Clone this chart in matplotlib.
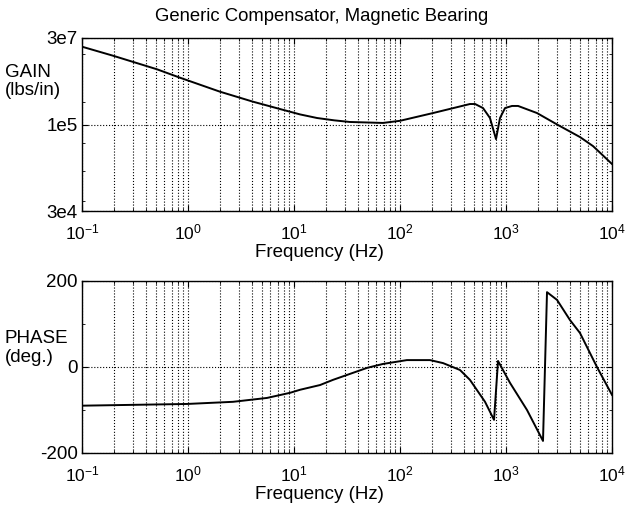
import matplotlib
matplotlib.use("Agg")
import matplotlib.pyplot as plt
from matplotlib.ticker import FixedLocator, LogLocator

plt.rcParams['font.family'] = ['Liberation Sans', 'DejaVu Sans']
plt.rcParams['mathtext.fontset'] = 'custom'
plt.rcParams['mathtext.rm'] = 'Liberation Sans'
plt.rcParams['axes.unicode_minus'] = False

# gain curve (Hz, lbs/in)
gain_freq = [0.1, 0.196, 0.51, 0.84, 2.0, 4.1, 7.38, 11.4, 16.5, 24, 33.7, 69,
             100, 205, 457, 511, 607, 706, 805, 878, 979, 1140, 1300, 1960,
             3095, 4990, 6630, 10000]
gain_val = [2.12e7, 1.48e7, 8.6e6, 6.15e6, 3.52e6, 2.36e6, 1.76e6, 1.42e6,
            1.23e6, 1.12e6, 1.05e6, 1.01e6, 1.10e6, 1.50e6, 2.15e6, 2.15e6,
            1.83e6, 1.23e6, 5.3e5, 1.23e6, 1.83e6, 1.99e6, 1.99e6, 1.50e6,
            9.3e5, 5.75e5, 4.0e5, 1.96e5]

# phase curve (Hz, deg)
phase_freq = [0.1, 0.98, 2.66, 5.56, 9.2, 11.4, 17.6, 23.3, 49, 69, 116, 192,
              255, 368, 457, 634, 771, 841, 1091, 1578, 2234, 2437, 3029,
              4018, 4989, 7211, 10000]
phase_val = [-90, -86, -81, -72, -60, -53, -42, -30, -2, 7, 16, 16,
             9, -7, -30, -81, -123, 14, -37, -100, -172, 174, 156,
             109, 79, 0, -65]

gain_ticks = [3e4, 9.487e5, 3e7]
gain_labels = ['3e4', '1e5', '3e7']
gain_minor = [4.5e4, 1.5e5, 4.5e5, 2.3e6, 1.6e7]
phase_ticks = [-200, 0, 200]
phase_minor = [-100, 100]

fig = plt.figure(figsize=(6.25, 5.08), dpi=100)
ax1 = fig.add_axes([0.1312, 0.5846, 0.848, 0.3406])
ax2 = fig.add_axes([0.1312, 0.1083, 0.848, 0.3386])

ax1.plot(gain_freq, gain_val, 'k-', lw=1.4)
ax1.set_yscale('log')
ax1.set_ylim(3e4, 3e7)
ax1.yaxis.set_major_locator(FixedLocator(gain_ticks))
ax1.yaxis.set_minor_locator(FixedLocator(gain_minor))
ax1.set_yticklabels(gain_labels)
ax1.yaxis.set_minor_formatter(plt.NullFormatter())

ax2.plot(phase_freq, phase_val, 'k-', lw=1.4)
ax2.set_ylim(-200, 200)
ax2.set_yticks(phase_ticks)
ax2.yaxis.set_minor_locator(FixedLocator(phase_minor))

for ax in (ax1, ax2):
    ax.set_xscale('log')
    ax.set_xlim(0.1, 1e4)
    ax.xaxis.set_major_locator(LogLocator(base=10, numticks=10))
    ax.xaxis.set_minor_locator(LogLocator(base=10, subs=range(2, 10), numticks=20))
    ax.grid(True, which='both', axis='x', color='k', ls=':', lw=0.8)
    ax.grid(True, which='major', axis='y', color='k', ls=':', lw=0.8)
    ax.tick_params(which='both', direction='in', top=True, right=True)
    ax.tick_params(axis='y', labelsize=13.5, pad=3)
    ax.tick_params(axis='x', labelsize=12.5, pad=8)
    ax.tick_params(which='major', length=4)
    ax.tick_params(which='minor', length=2)
    ax.set_xlabel('Frequency (Hz)', fontsize=13.5)
    ax.xaxis.set_label_coords(0.4487, -0.19)
    for s in ax.spines.values():
        s.set_linewidth(1.0)

fig.text(0.5144, 0.985, 'Generic Compensator, Magnetic Bearing', fontsize=13.3,
         ha='center', va='top')
fig.text(0.008, 0.84, 'GAIN\n(lbs/in)', fontsize=13.5, ha='left', va='center',
         linespacing=1.1)
fig.text(0.008, 0.315, 'PHASE\n(deg.)', fontsize=13.5, ha='left',
         va='center', linespacing=1.1)

fig.savefig('out.png', dpi=100)
